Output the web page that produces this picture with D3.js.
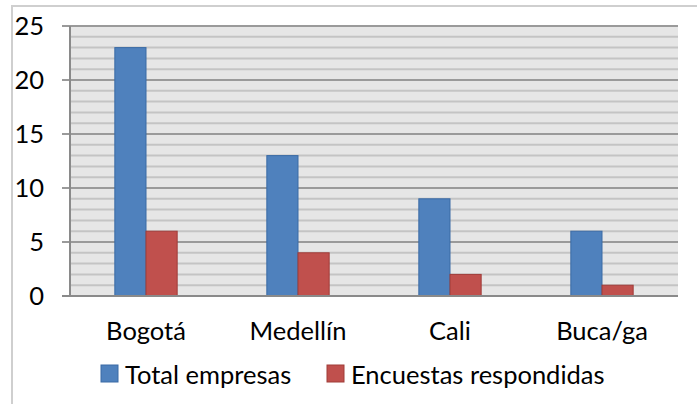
<!DOCTYPE html>
<html><head><meta charset="utf-8">
<script src="https://cdn.jsdelivr.net/npm/d3@7"></script>
<style>
html,body{margin:0;padding:0;background:#fff;}
svg{display:block;}
text{font-family:"Lato","Liberation Sans",sans-serif;fill:#000;}
</style></head>
<body>
<svg id="chart" width="697" height="404"></svg>
<script>
const categories = ["Bogotá", "Medellín", "Cali", "Buca/ga"];
const seriesNames = ["Total empresas", "Encuestas respondidas"];
const totalEmpresas = [23, 13, 9, 6];
const encuestasRespondidas = [6, 4, 2, 1];
const yTicks = [0, 5, 10, 15, 20, 25];
const colors = ["#4f81bd", "#c0504d"];
const strokes = ["#3a6aa5", "#a03c39"];

(function(){
const svg = d3.select("#chart");
const W = 697, H = 404;
const pL = 70, pR = 678, pT = 26, pB = 296;
const fs = 25.5;

// outer frame
svg.append("path").attr("d", `M12,${H} L12,6 L${W},6`).attr("fill","none")
  .attr("stroke","#cfcfcf").attr("stroke-width",2);

const x = d3.scaleBand().domain(categories).range([pL, pR]);
const y = d3.scaleLinear().domain([0, 25]).range([pB, pT]);

// plot background
svg.append("rect").attr("x", pL).attr("y", pT).attr("width", pR-pL).attr("height", pB-pT)
  .attr("fill", "#e6e6e6");

// minor gridlines
const minor = d3.range(1, 25).filter(v => v % 5 !== 0);
svg.append("g").selectAll("line").data(minor).join("line")
  .attr("x1", pL).attr("x2", pR)
  .attr("y1", d => y(d)).attr("y2", d => y(d))
  .attr("stroke", "#c4c4c4").attr("stroke-width", 2);

// major gridlines
svg.append("g").selectAll("line").data(yTicks.filter(v => v > 0)).join("line")
  .attr("x1", pL - 8).attr("x2", pR)
  .attr("y1", d => y(d)).attr("y2", d => y(d))
  .attr("stroke", "#9a9a9a").attr("stroke-width", 2);

// bars
const barW = x.bandwidth() * 0.205;
const series = [totalEmpresas, encuestasRespondidas];
series.forEach((vals, si) => {
  svg.append("g").selectAll("rect").data(vals).join("rect")
    .attr("x", (d, i) => x(categories[i]) + x.bandwidth()/2 + (si === 0 ? -barW : 0))
    .attr("y", d => y(d))
    .attr("width", barW)
    .attr("height", d => y(0) - y(d))
    .attr("fill", colors[si])
    .attr("stroke", strokes[si]).attr("stroke-width", 1);
});

// axes lines
svg.append("line").attr("x1", pL).attr("x2", pL).attr("y1", pT).attr("y2", pB)
  .attr("stroke", "#8a8a8a").attr("stroke-width", 2);
svg.append("line").attr("x1", pL - 8).attr("x2", pR).attr("y1", pB).attr("y2", pB)
  .attr("stroke", "#8a8a8a").attr("stroke-width", 2);

// y tick labels
svg.append("g").selectAll("text").data(yTicks).join("text")
  .attr("x", 44).attr("y", d => y(d) + 9)
  .attr("text-anchor", "end")
  .attr("font-size", fs)
  .text(d => d);

// category labels
svg.append("g").selectAll("text").data(categories).join("text")
  .attr("x", d => x(d) + x.bandwidth()/2)
  .attr("y", 340)
  .attr("text-anchor", "middle")
  .attr("font-size", fs)
  .text(d => d);

// legend
const legendX = [101, 327];
seriesNames.forEach((name, i) => {
  svg.append("rect").attr("x", legendX[i]).attr("y", 365).attr("width", 17).attr("height", 17)
    .attr("fill", colors[i]).attr("stroke", strokes[i]).attr("stroke-width", 1);
  svg.append("text").attr("x", legendX[i] + 24).attr("y", 384)
    .attr("font-size", fs).text(name);
});
})();
</script>
</body></html>
